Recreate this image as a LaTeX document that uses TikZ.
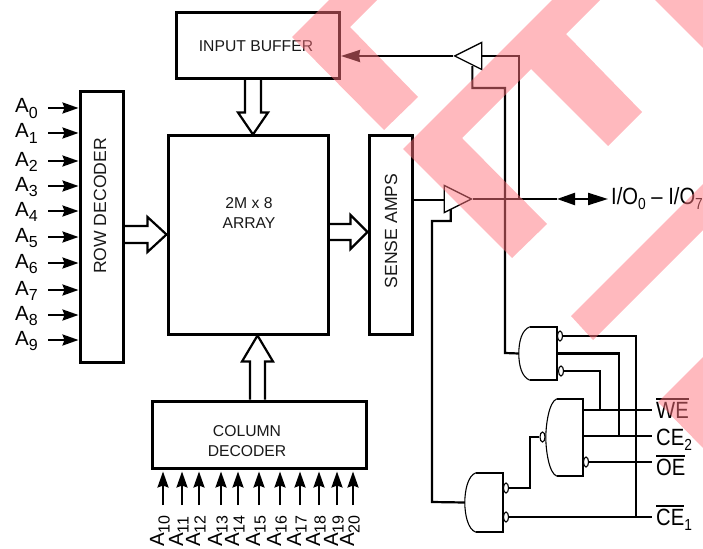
\documentclass[tikz,border=0pt]{standalone}
\usepackage{fontspec}
\setmainfont{Liberation Sans}
\usetikzlibrary{shapes.geometric, arrows.meta, calc, backgrounds}

\newcommand{\lowidx}[1]{\raisebox{-5.5pt}{\fontsize{16}{16}\selectfont #1}}
\newcommand{\barsig}[1]{\mbox{\vbox{\hrule height 1.4pt \kern 2pt \hbox{#1}}}}
\newcommand{\tallsig}[1]{\scalebox{0.86}[1]{\fontsize{23.5}{24}\selectfont #1}}
\newcommand{\gateshape}[1]{%
  \draw[gateedge] ($(#1.north west)+(11,0)$) -- (#1.north east) -- (#1.south east) -- ($(#1.south west)+(11,0)$);
  \draw[gatecurve] ($(#1.north west)+(11,0)$) .. controls ($(#1.north west)+(3,3)$) and ($(#1.west)+(0,-12)$) .. (#1.west)
    .. controls ($(#1.west)+(0,12)$) and ($(#1.south west)+(3,-3)$) .. ($(#1.south west)+(11,0)$);}
% from, to, head length, shaft half width, head half width
\newcommand{\hollowbus}[5]{%
  \coordinate (busa) at (#1);
  \coordinate (busb) at (#2);
  \coordinate (bush) at ($(busb)!#3pt!(busa)$);
  \draw[busline] ($(busa)!#4pt!90:(busb)$) -- ($(bush)!#4pt!90:(busb)$) -- ($(bush)!#5pt!90:(busb)$) -- (busb)
    -- ($(bush)!#5pt!-90:(busb)$) -- ($(bush)!#4pt!-90:(busb)$) -- ($(busa)!#4pt!-90:(busb)$);}

\begin{document}
\begin{tikzpicture}[
  x=1pt, y=-1pt,
  block/.style={rectangle, draw=black, line width=3pt, inner sep=0pt},
  blocktxt/.style={font=\fontsize{15.7}{20}\selectfont, align=center, text=black!90},
  sidetxt/.style={font=\fontsize{17.6}{20}\selectfont, rotate=90, text=black!90},
  addr/.style={font=\fontsize{20.5}{20}\selectfont, inner sep=0pt},
  wire/.style={line width=2.2pt},
  sig/.style={line width=2.2pt, -{Stealth[length=16pt, width=11pt, inset=2pt]}},
  busline/.style={line width=2.2pt, fill=white},
  buf/.style={isosceles triangle, isosceles triangle stretches, draw=black, line width=1.3pt,
              minimum width=27pt, minimum height=27pt, inner sep=0pt},
  gatebox/.style={rectangle, inner sep=0pt},
  gateedge/.style={line width=2pt},
  gatecurve/.style={line width=1.1pt},
  bubble/.style={ellipse, draw=black, line width=1.1pt, fill=white, minimum width=5pt,
                 minimum height=10pt, inner sep=0pt},
  wmark/.style={fill={rgb,255:red,255;green,115;blue,125}, fill opacity=0.5}
]
\useasboundingbox (0,0) rectangle (703,548);

% Main blocks
\node[block, minimum width=163pt, minimum height=65.5pt] (inbuf)  at (258,45.3) {};
\node[block, minimum width=160pt, minimum height=198pt]  (array)  at (248,235) {};
\node[block, minimum width=43pt,  minimum height=270pt]  (rowdec) at (101.5,227) {};
\node[block, minimum width=43pt,  minimum height=198pt]  (sense)  at (390.5,235) {};
\node[block, minimum width=214pt, minimum height=67pt]   (coldec) at (259,434.5) {};

\node[blocktxt] (inbuftxt)  at (256,46) {INPUT BUFFER};
\node[blocktxt] (arraytxt)  at (249,213) {2M x 8\\ARRAY};
\node[blocktxt] (coldectxt) at (247,441) {COLUMN\\DECODER};
\node[sidetxt]  (rowtxt)    at (100,206) {ROW DECODER};
\node[sidetxt]  (sensetxt)  at (391,231) {SENSE AMPS};

% Hollow bus arrows
\begin{scope}[on background layer]
\hollowbus{[xshift=-5pt]inbuf.south}{[xshift=5pt]array.north}{22}{8}{15}
\hollowbus{[yshift=-7.5pt]rowdec.east}{[yshift=0.5pt]array.west}{19}{8.5}{17.5}
\hollowbus{[yshift=3pt]array.east}{[yshift=3pt]sense.west}{17}{8}{17}
\hollowbus{[xshift=-1.5pt]coldec.north}{[xshift=9.5pt]array.south}{26}{7.5}{15.5}
\end{scope}

% Row address inputs
\foreach \y [count=\i from 0] in {108,133,161,186,211,237,263,290,315,340} {
  \node[addr, anchor=base west] (ra\i) at (15,\y+5) {A\lowidx{\i}};
  \coordinate (rs\i) at (48,\y);
  \draw[sig] (rs\i) -- (rs\i -| rowdec.west);
}

% Column address inputs
\foreach \x [count=\i from 10] in {163,182,199,221,238,259,280,300,319,337,353} {
  \node[addr, anchor=base west, rotate=90] (ca\i) at (\x+1,547) {A\lowidx{\i}};
  \coordinate (cs\i) at (\x,505);
  \draw[sig, shorten >=2pt] (cs\i) -- (cs\i |- coldec.south);
}

% Tri-state buffers
\node[buf, shape border rotate=180, anchor=apex] (topbuf) at (453,56) {};
\node[buf, anchor=apex] (botbuf) at (473,199) {};

\coordinate (iojoin) at (519,199);
\coordinate (ioleft) at (557,199);
\node[addr, anchor=base west] (iotxt) at (611,204) {\tallsig{I/O\lowidx{0} -- I/O\lowidx{7}}};

\draw[wire] (botbuf.apex) -- (ioleft);
\draw[line width=2.2pt, {Triangle[length=18pt, width=12pt]}-{Triangle[length=20pt, width=12pt]}] (ioleft) -- ++(51,0) coordinate (ioright);
\draw[wire] (topbuf.east) -| (iojoin);
\draw[line width=2.2pt, -{Stealth[length=19pt, width=12pt, inset=1pt]}] (topbuf.apex) -- (topbuf.apex -| inbuf.east);
\draw[wire] ([yshift=35pt]sense.east) -- ([yshift=35pt]sense.east -| botbuf.west);

% Gates
\node[gatebox, minimum width=38pt, minimum height=53pt] (gatew) at (538,353.5) {};
\node[gatebox, minimum width=37pt, minimum height=77pt] (gatee) at (564.5,437.5) {};
\node[gatebox, minimum width=38pt, minimum height=59pt] (gatec) at (484,502.5) {};
\gateshape{gatew}
\gateshape{gatee}
\gateshape{gatec}

\node[bubble] (bwa) at (560,336) {};
\node[bubble] (bwb) at (561,371) {};
\node[bubble] (bea) at (542.5,437) {};
\node[bubble] (beb) at (586,462) {};
\node[bubble] (bca) at (506,488) {};
\node[bubble] (bcb) at (506,517) {};

% Control labels
\node[addr, anchor=base west] (wetxt)  at (656,418) {\tallsig{\barsig{WE}}};
\node[addr, anchor=base west] (ce2txt) at (656,445) {\tallsig{CE\lowidx{2}}};
\node[addr, anchor=base west] (oetxt)  at (656,475) {\tallsig{\barsig{OE}}};
\node[addr, anchor=base west] (ce1txt) at (656,525) {\tallsig{\barsig{CE}\lowidx{1}}};

% Control wiring
\coordinate (wewest) at (gatee.north east |- 0,410);
\coordinate (cewest) at (gatee.north east |- 0,436);
\coordinate (weend) at (652,410);
\coordinate (ceend) at (652,436);
\coordinate (oeend) at (652,462);
\coordinate (ceoneend) at (652,517);
\coordinate (busend) at (636,335);
\coordinate (enwest) at (gatew.east);

\draw[wire] (wewest) -- (weend);
\draw[wire] (cewest) -- (ceend);
\draw[wire] (beb.east) -- (oeend);
\draw[wire] (bcb.east) -- (ceoneend);
\draw[wire] (busend) -- (busend |- ceoneend);
\draw[wire] (bwa.east) -- (bwa.east -| busend);
\draw[wire] (enwest) -| (619,436);
\draw[wire] (bwb.east) -| (600,410);
\draw[wire] (bca.east) -- ++(21,0) |- (bea.west);

% Buffer enables
\draw[wire] ([xshift=-1pt]topbuf.south) -- ++(0,22) -| (505,353) -- (gatew.west);
\draw[wire] ([xshift=-2pt]botbuf.south) -- ++(0,12) -| (432,502) -- (gatec.west);

% Watermark
\fill[wmark] (292,37) -- (329,0) -- (377,0) -- (350,27) -- (418,97) -- (384,130) -- cycle;
\fill[wmark] (403,149) -- (552,0) -- (600,0) -- (566,34) -- (642,112) -- (608,146) -- (531,69) -- (462,138) -- (547,224) -- (512,258) -- cycle;
\fill[wmark] (655,0) -- (703,0) -- (703,48) -- cycle;
\fill[wmark] (571,316) -- (703,184) -- (703,230) -- (593,340) -- cycle;
\fill[wmark] (658,402) -- (703,357) -- (703,448) -- cycle;
\end{tikzpicture}
\end{document}
